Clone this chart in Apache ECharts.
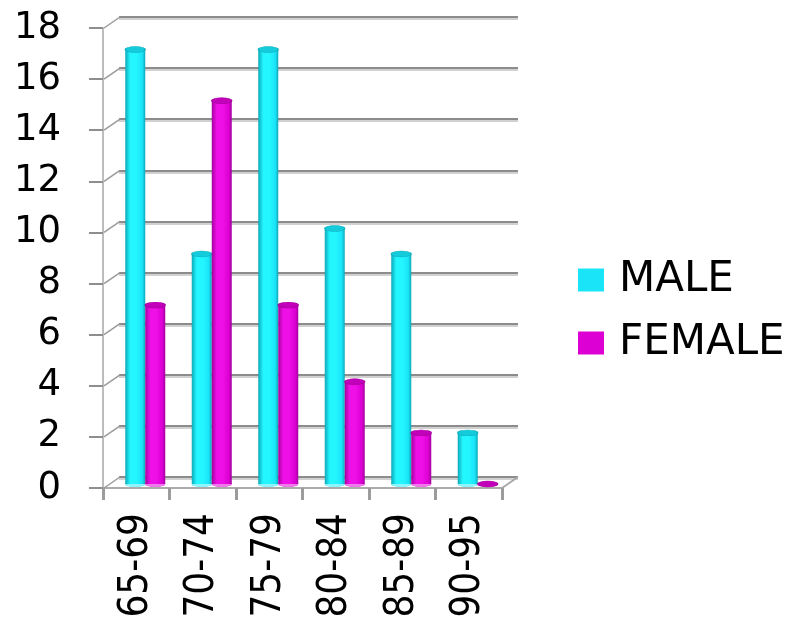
<!DOCTYPE html>
<html>
<head>
<meta charset="utf-8">
<script src="https://cdn.jsdelivr.net/npm/echarts@6/dist/echarts.min.js"></script>
<style>
  html, body { margin: 0; padding: 0; background: #fff; }
  #chart { width: 791px; height: 620px; }
</style>
</head>
<body>
<div id="chart"></div>
<script>
// Age groups and counts per sex
const categories = ['65-69', '70-74', '75-79', '80-84', '85-89', '90-95'];
const maleValues = [17, 9, 17, 10, 9, 2];
const femaleValues = [7, 15, 7, 4, 2, 0];
const seriesNames = ['MALE', 'FEMALE'];
const yTickValues = [0, 2, 4, 6, 8, 10, 12, 14, 16, 18];

// Depth offset between the front axis plane and the back wall
const DEPTH_X = 16;
const DEPTH_Y = -11;

const palettes = {
  MALE: {
    solid: '#1ae4f8',
    dark: '#0aa9b8',
    light: '#24f6ff',
    top: '#14cbdb',
    edge: '#0fb2c0',
    base: '#8ff4fb'
  },
  FEMALE: {
    solid: '#dc00d4',
    dark: '#a4009c',
    light: '#ee10e6',
    top: '#c200ba',
    edge: '#a8009f',
    base: '#f07aea'
  }
};

// Cylinder bar drawn through the category/value scales
function cylinderRenderer(side, pal) {
  return function (params, api) {
    const cat = api.value(0);
    const val = api.value(1);
    const base = api.coord([cat, 0]);
    const top = api.coord([cat, val]);
    const w = 20;
    const cx = base[0] + side * 10;
    const x0 = cx - w / 2;
    const r = w / 2;
    const sy = 0.3;
    const bodyFill = new echarts.graphic.LinearGradient(0, 0, 1, 0, [
      { offset: 0, color: pal.dark },
      { offset: 0.25, color: pal.light },
      { offset: 0.55, color: pal.light },
      { offset: 0.85, color: pal.solid },
      { offset: 1, color: pal.dark }
    ]);
    const children = [
      {
        type: 'circle',
        shape: { cx: 0, cy: 0, r: r },
        x: cx, y: base[1], scaleY: sy,
        style: { fill: pal.base }
      }
    ];
    if (base[1] - top[1] > 0.5) {
      children.push({
        type: 'rect',
        shape: { x: x0, y: top[1], width: w, height: base[1] - top[1] },
        style: { fill: bodyFill }
      });
      children.push({
        type: 'circle',
        shape: { cx: 0, cy: 0, r: r },
        x: cx, y: base[1], scaleY: sy,
        style: { fill: bodyFill },
        z2: -1
      });
    }
    children.push({
      type: 'circle',
      shape: { cx: 0, cy: 0, r: r },
      x: cx, y: top[1], scaleY: sy,
      style: { fill: pal.top, stroke: pal.edge, lineWidth: 1.5 }
    });
    return { type: 'group', children: children };
  };
}

// Short diagonal edges joining the front axis to the back wall
function edgeRenderer(params, api) {
  const cs = params.coordSys;
  const v = api.value(0);
  const p = api.coord([0, v]);
  const lines = [{
    type: 'line',
    shape: { x1: cs.x + 1, y1: p[1], x2: cs.x + 1 + DEPTH_X, y2: p[1] + DEPTH_Y },
    style: { stroke: '#9a9a9a', lineWidth: 1.5 }
  }];
  if (v === 0) {
    lines.push({
      type: 'line',
      shape: { x1: cs.x + cs.width, y1: p[1], x2: cs.x + cs.width + DEPTH_X, y2: p[1] + DEPTH_Y },
      style: { stroke: '#a8a8a8', lineWidth: 2 }
    });
  }
  return { type: 'group', children: lines };
}

const chart = echarts.init(document.getElementById('chart'), null, { renderer: 'canvas' });

const gridFront = { left: 103, top: 28, width: 399, height: 460 };
const gridBack = { left: 103 + DEPTH_X, top: 28 + DEPTH_Y, width: 399, height: 460 };
const gridMid = { left: 112, top: 24, width: 399, height: 460 };
const gridCommon = { containLabel: false, outerBoundsMode: 'none' };

const option = {
  backgroundColor: '#ffffff',
  animation: false,
  legend: {
    data: seriesNames,
    orient: 'vertical',
    left: 573,
    top: 254,
    icon: 'rect',
    itemWidth: 26,
    itemHeight: 23,
    itemGap: 21,
    textStyle: {
      fontFamily: 'DejaVu Sans',
      fontSize: 42,
      lineHeight: 42,
      color: '#000',
      padding: [0, 0, 0, 10]
    }
  },
  grid: [
    Object.assign({}, gridCommon, gridFront),
    Object.assign({}, gridCommon, gridBack),
    Object.assign({}, gridCommon, gridMid)
  ],
  xAxis: [
    {
      gridIndex: 0,
      type: 'category',
      data: categories,
      axisLine: { lineStyle: { color: '#ababab', width: 2 } },
      axisTick: { show: true, length: 12, lineStyle: { color: '#9c9c9c', width: 3 } },
      axisLabel: {
        rotate: 90,
        margin: 25,
        color: '#000',
        fontSize: 40,
        fontFamily: 'DejaVu Sans Condensed, DejaVu Sans, sans-serif'
      }
    },
    {
      gridIndex: 1,
      type: 'category',
      data: categories,
      show: false
    },
    {
      gridIndex: 2,
      type: 'category',
      data: categories,
      show: false
    }
  ],
  yAxis: [
    {
      gridIndex: 0,
      type: 'value',
      min: 0,
      max: 18,
      interval: 2,
      axisLine: { show: true, lineStyle: { color: '#bdbdbd', width: 2 } },
      axisTick: { show: true, length: 14, lineStyle: { color: '#8e8e8e', width: 2 } },
      splitLine: { show: false },
      axisLabel: {
        margin: 42,
        color: '#000',
        fontSize: 37,
        fontFamily: 'DejaVu Sans'
      }
    },
    {
      gridIndex: 1,
      type: 'value',
      min: 0,
      max: 18,
      interval: 2,
      axisLine: { show: false },
      axisTick: { show: false },
      axisLabel: { show: false },
      splitLine: {
        show: true,
        lineStyle: {
          color: '#8c8c8c',
          width: 2,
          shadowColor: 'rgba(0,0,0,0.18)',
          shadowOffsetY: 2,
          shadowBlur: 0
        }
      }
    },
    {
      gridIndex: 2,
      type: 'value',
      min: 0,
      max: 18,
      interval: 2,
      show: false
    }
  ],
  series: [
    {
      name: 'edges',
      type: 'custom',
      xAxisIndex: 0,
      yAxisIndex: 0,
      renderItem: edgeRenderer,
      data: yTickValues.map(v => [v]),
      encode: { y: 0 },
      silent: true,
      z: 1
    },
    {
      name: seriesNames[0],
      type: 'custom',
      xAxisIndex: 2,
      yAxisIndex: 2,
      itemStyle: { color: palettes.MALE.solid },
      renderItem: cylinderRenderer(-1, palettes.MALE),
      data: maleValues.map((v, i) => [i, v]),
      encode: { x: 0, y: 1 },
      z: 5
    },
    {
      name: seriesNames[1],
      type: 'custom',
      xAxisIndex: 2,
      yAxisIndex: 2,
      itemStyle: { color: palettes.FEMALE.solid },
      renderItem: cylinderRenderer(1, palettes.FEMALE),
      data: femaleValues.map((v, i) => [i, v]),
      encode: { x: 0, y: 1 },
      z: 6
    }
  ]
};

chart.setOption(option);
</script>
</body>
</html>
